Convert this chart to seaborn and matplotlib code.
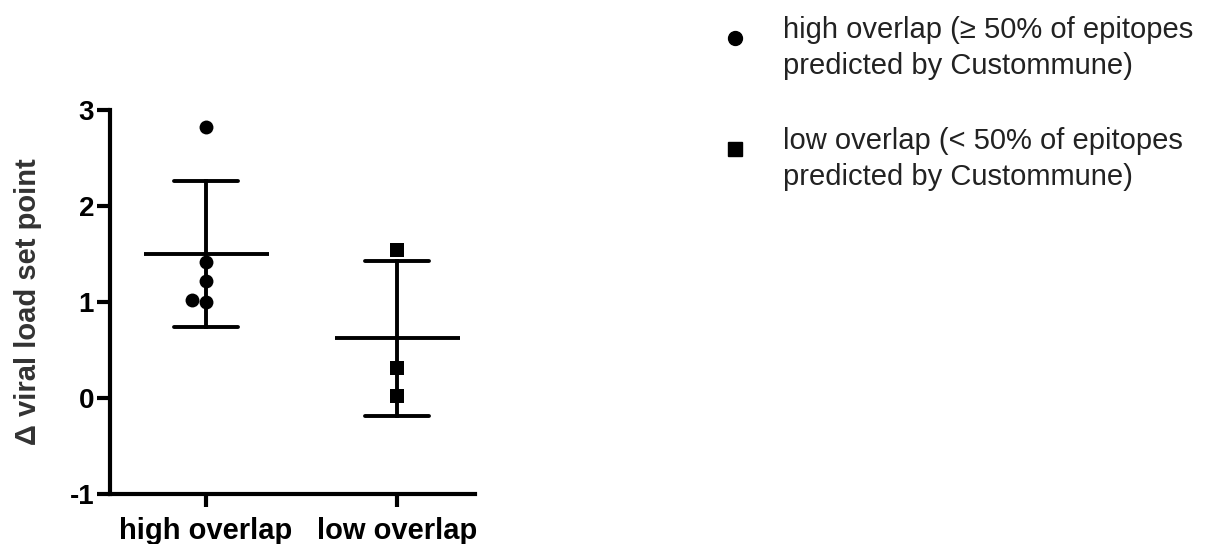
import matplotlib
matplotlib.use('Agg')

import matplotlib.pyplot as plt
import seaborn as sns
import pandas as pd
from matplotlib.lines import Line2D

# ---- data ----
groups = ['high overlap', 'low overlap']
high_vals = [2.82, 1.42, 1.22, 1.00, 1.02]
low_vals = [1.54, 0.31, 0.02]
y_ticks = [-1, 0, 1, 2, 3]
legend_labels = ['high overlap (≥ 50% of epitopes\npredicted by Custommune)',
                 'low overlap (< 50% of epitopes\npredicted by Custommune)']

sns.set_style('ticks')
plt.rcParams['font.family'] = ['Liberation Sans', 'DejaVu Sans']
plt.rcParams['axes.unicode_minus'] = False

df = pd.DataFrame({
    'group': [groups[0]] * len(high_vals) + [groups[1]] * len(low_vals),
    'dvl': high_vals + low_vals,
})

fig = plt.figure(figsize=(12.32, 5.44), dpi=100)
ax = fig.add_axes([0.0893, 0.0919, 0.2963, 0.7059])

# mean +/- SD
sns.pointplot(data=df, x='group', y='dvl', order=groups, errorbar='sd',
              capsize=0.335, linestyle='none', marker='_', markersize=90,
              markeredgewidth=2.8, color='black',
              err_kws={'linewidth': 2.8}, ax=ax)

# individual points
sns.swarmplot(data=df[df['group'] == groups[0]], x='group', y='dvl', order=groups,
              marker='o', size=10, color='black', ax=ax)
sns.swarmplot(data=df[df['group'] == groups[1]], x='group', y='dvl', order=groups,
              marker='s', size=9.5, color='black', ax=ax)

ax.set_xlim(-0.503, 1.41)
ax.set_ylim(-1, 3)
ax.set_yticks(y_ticks)
ax.set_yticklabels([str(t) for t in y_ticks], fontsize=20, fontweight='bold')
ax.set_xticks(range(len(groups)))
ax.set_xticklabels(groups, fontsize=21, fontweight='bold')
ax.set_xlabel('')
ax.set_ylabel('Δ viral load set point', fontsize=21, fontweight='bold',
              color='#333333', labelpad=20)
for s in ['left', 'bottom']:
    ax.spines[s].set_linewidth(3)
    ax.spines[s].set_color('black')
sns.despine(ax=ax)
ax.tick_params(axis='both', width=3, length=9.5, color='black', labelcolor='black')
ax.tick_params(axis='y', pad=2)
ax.tick_params(axis='x', pad=7)

# legend, drawn beside the plot
markers = ['o', 's']
marker_sizes = [10, 9.5]
rows = [0.930, 0.726]
for lab, mk, ms, yy in zip(legend_labels, markers, marker_sizes, rows):
    fig.add_artist(Line2D([0.5966], [yy], marker=mk, markersize=ms, color='black',
                          linestyle='none', transform=fig.transFigure))
    fig.text(0.6356, yy + 0.040, lab, fontsize=21, color='#222222', va='top',
             linespacing=1.35)

fig.savefig('out.png', dpi=100)
